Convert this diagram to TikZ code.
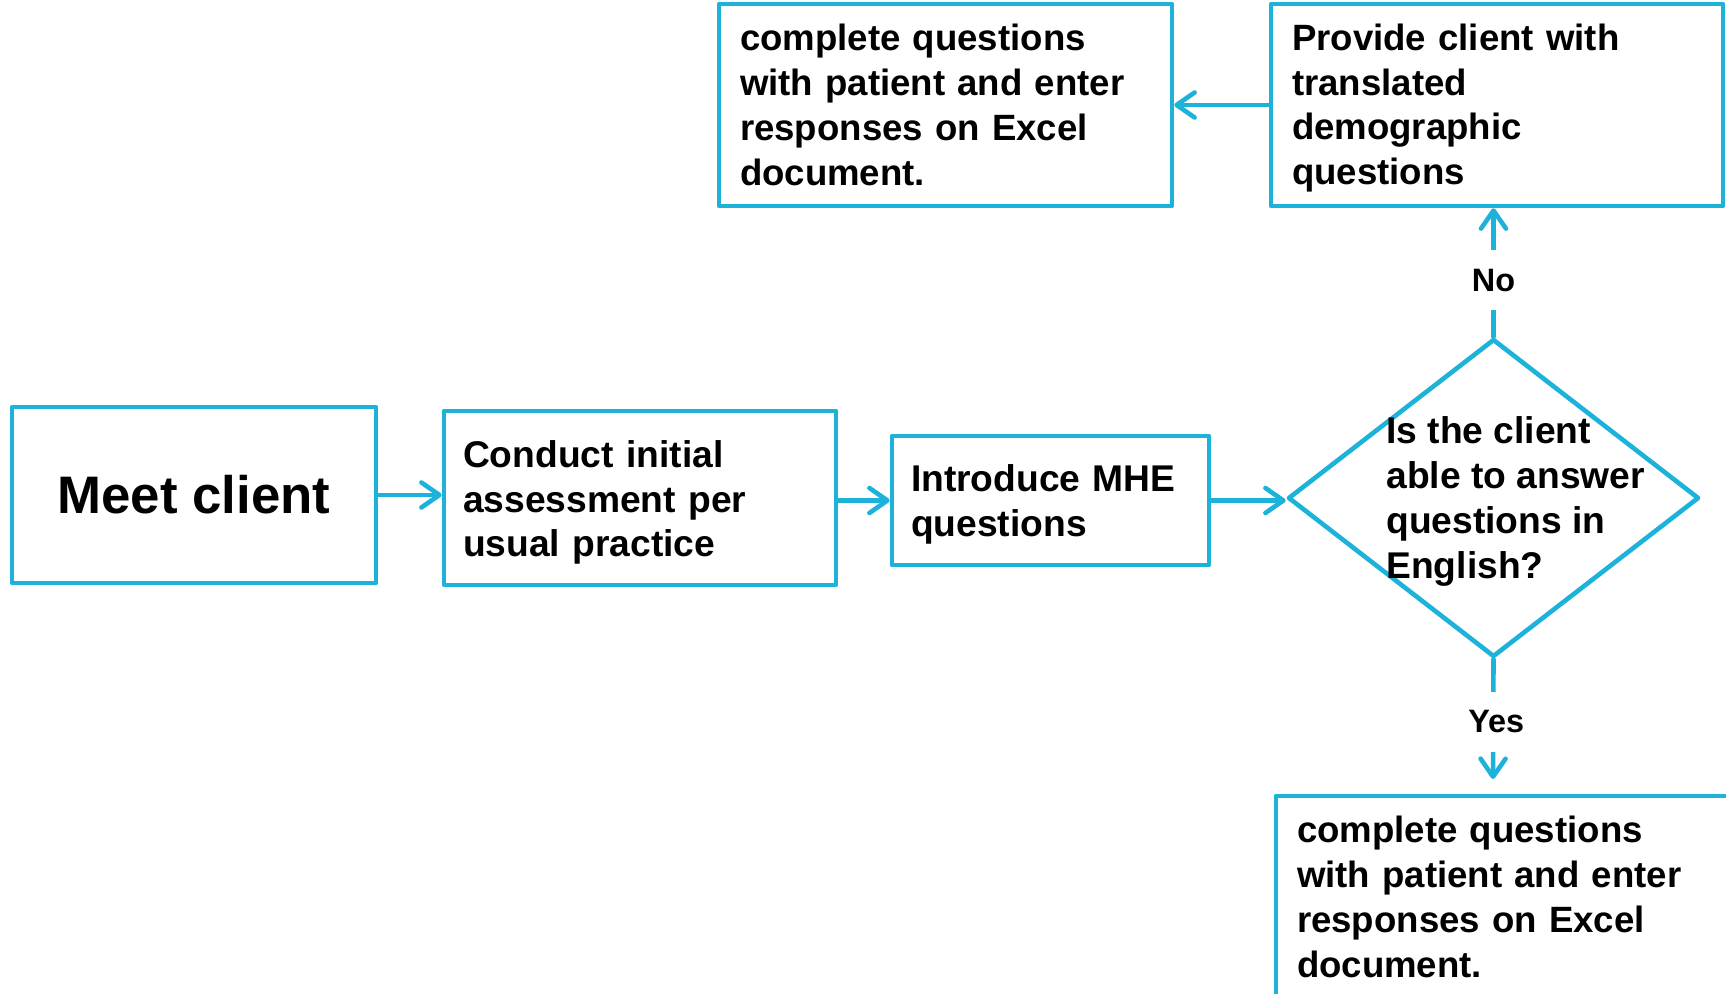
\documentclass[tikz,border=0pt]{standalone}
\usepackage{fontspec}
\setmainfont{Liberation Sans}
\usetikzlibrary{shapes.geometric,arrows.meta}
\definecolor{flowblue}{RGB}{28,178,218}
\begin{document}
\begin{tikzpicture}[x=0.5pt,y=-0.5pt,
  box/.style={draw=flowblue, line width=2.3pt, line join=round, fill=white,
    align=left, inner ysep=0pt, text=black,
    font=\bfseries\fontsize{18.6}{22.4}\selectfont},
  smallbox/.style={box, font=\bfseries\fontsize{18.3}{22.4}\selectfont},
  decision/.style={draw=flowblue, line width=2.3pt, line join=round, shape=diamond, inner sep=0pt},
  arr/.style={draw=flowblue, line width=2.3pt, line cap=round,
    -{Straight Barb[length=9pt,width=12.5pt,line cap=round,line join=round]}},
  lbl/.style={fill=white, text=black, inner xsep=2pt, minimum height=30pt,
    font=\bfseries\fontsize{16.2}{19}\selectfont}
]
\clip (0,0) rectangle (1726,994);

\node[box, align=center, inner sep=0pt, minimum width=182pt, minimum height=88pt,
      font=\bfseries\fontsize{26.4}{30}\selectfont] (meet) at (194,495) {Meet client};

\node[box, text width=177pt, inner xsep=9.5pt, minimum height=87pt] (conduct) at (640,498)
  {\rule{0pt}{18pt}Conduct initial\\assessment per\\usual practice};

\node[box, text width=139.5pt, inner xsep=9.5pt, minimum height=64.5pt] (intro) at (1050.5,500.5)
  {\rule{0pt}{17.6pt}Introduce MHE\\questions};

\node[decision, minimum width=205.5pt, minimum height=159pt] (dia) at (1493.5,498) {};
\node[anchor=west, inner sep=0pt, align=left, text=black,
      font=\bfseries\fontsize{18.6}{22.4}\selectfont] (diatext) at (1386,501.5)
  {Is the client\\able to answer\\questions in\\English?};

\node[smallbox, text width=205.5pt, inner xsep=10.5pt, minimum height=101pt] (tl) at (945.5,105)
  {complete questions\\with patient and enter\\responses on Excel\\document.};

\node[smallbox, text width=205pt, inner xsep=10.5pt, minimum height=101pt] (tr) at (1497,105)
  {\rule{0pt}{16.4pt}Provide client with\\translated\\demographic\\questions};

\node[smallbox, text width=205pt, inner xsep=10.5pt, minimum height=101pt] (bot) at (1502,897)
  {complete questions\\with patient and enter\\responses on Excel\\document.};

\coordinate (yesend) at (1493,779);

\draw[arr] (meet.east) -- (conduct.west |- meet.east);
\draw[arr] (conduct.east |- intro.west) -- (intro.west);
\draw[arr] (intro.east) -- (dia.west |- intro.east);
\draw[arr] (dia.north) -- node[lbl, pos=0.44] (no) {No} (dia.north |- tr.south);
\draw[arr] (dia.south) -- node[lbl, pos=0.52, xshift=1.5pt] (yes) {Yes} (yesend);
\draw[arr] (tr.west) -- (tl.east);
\end{tikzpicture}
\end{document}
